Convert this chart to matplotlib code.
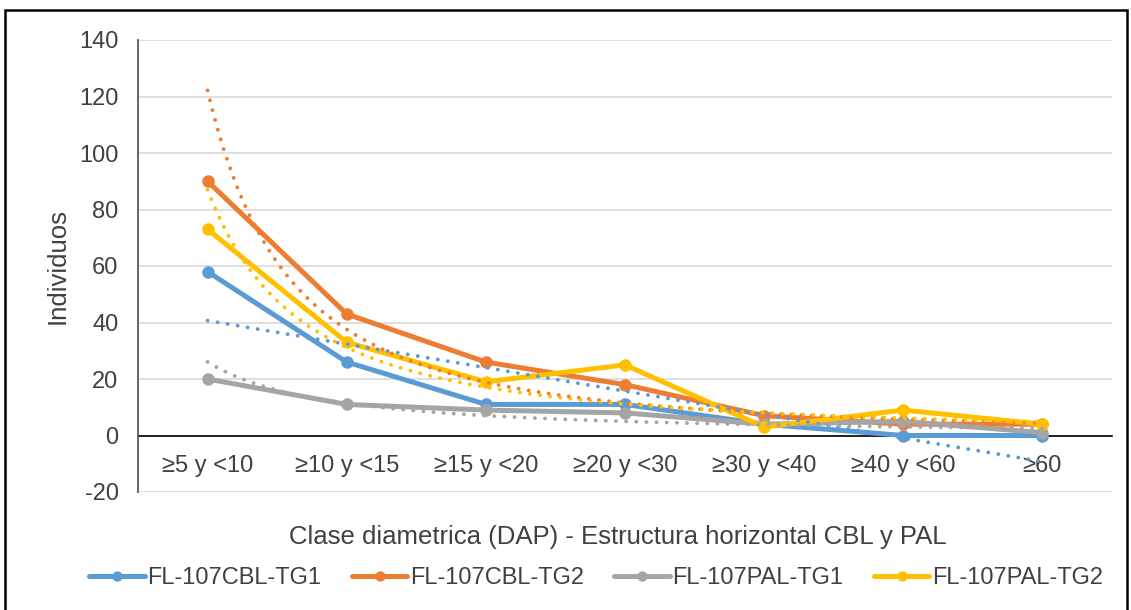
import numpy as np
import matplotlib
matplotlib.use('Agg')
import matplotlib.pyplot as plt
import matplotlib.patches as patches

plt.rcParams['font.family'] = ['Liberation Sans', 'DejaVu Sans']
plt.rcParams['axes.unicode_minus'] = False

# Data
categories = ['≥5 y <10', '≥10 y <15', '≥15 y <20', '≥20 y <30',
              '≥30 y <40', '≥40 y <60', '≥60']
cbl_tg1 = [58, 26, 11, 11, 4, 0, 0]
cbl_tg2 = [90, 43, 26, 18, 7, 4, 4]
pal_tg1 = [20, 11, 9, 8, 4, 5, 1]
pal_tg2 = [73, 33, 19, 25, 3, 9, 4]
names = ['FL-107CBL-TG1', 'FL-107CBL-TG2', 'FL-107PAL-TG1', 'FL-107PAL-TG2']
colors = ['#5B9BD5', '#ED7D31', '#A5A5A5', '#FFC000']
# trendline type per series (Excel style): linear for the first, power for the rest
trend_kind = ['linear', 'power', 'power', 'power']
yticks = [-20, 0, 20, 40, 60, 80, 100, 120, 140]

series = [cbl_tg1, cbl_tg2, pal_tg1, pal_tg2]
txt = '#404040'
fs = 17          # ticks and legend
fs_title = 18.5  # axis titles

fig = plt.figure(figsize=(11.31, 6.10), dpi=100)
fig.patch.set_facecolor('white')
ax = fig.add_axes([138/1131, 1-492/610, 974/1131, 452/610])

x = np.arange(1, len(categories) + 1)
xf = np.linspace(1, len(categories), 200)

for vals, c, name in zip(series, colors, names):
    ax.plot(x, vals, color=c, lw=3.6, marker='o', ms=8, label=name,
            solid_capstyle='round', zorder=3)

# trendlines fitted from the data
for vals, c, kind in zip(series, colors, trend_kind):
    v = np.array(vals, dtype=float)
    if kind == 'linear':
        p = np.polyfit(x, v, 1)
        yf = np.polyval(p, xf)
    else:
        m = v > 0
        p = np.polyfit(np.log(x[m]), np.log(v[m]), 1)
        yf = np.exp(p[1]) * xf ** p[0]
    ax.plot(xf, yf, color=c, lw=2.8, linestyle=(0, (0.01, 2.6)),
            dash_capstyle='round', zorder=4)

ax.set_xlim(0.5, len(categories) + 0.5)
ax.set_ylim(-20, 140)
ax.set_yticks(yticks)
ax.set_xticks(x)
ax.set_xticklabels(categories)
ax.grid(axis='y', color='#d9d9d9', lw=1.2, zorder=0)
ax.set_axisbelow(True)

for s in ['top', 'right']:
    ax.spines[s].set_visible(False)
ax.spines['left'].set_color('#595959')
ax.spines['left'].set_linewidth(1.3)
ax.spines['bottom'].set_position(('data', 0))
ax.spines['bottom'].set_color('black')
ax.spines['bottom'].set_linewidth(1.2)
ax.spines['bottom'].set_zorder(2)
ax.tick_params(axis='both', length=0, labelsize=fs, labelcolor=txt)
ax.tick_params(axis='y', pad=14)
ax.tick_params(axis='x', pad=14)

fig.text(58/1131, 1-266/610, 'Individuos', rotation=90, ha='center',
         va='center', fontsize=fs_title, color=txt)
fig.text(618/1131, 1-537/610,
         'Clase diametrica (DAP) - Estructura horizontal CBL y PAL',
         ha='center', va='center', fontsize=fs_title, color=txt)

fig.legend(loc='center', bbox_to_anchor=(596/1131, 1-578/610), ncol=4,
           frameon=False, fontsize=fs, handlelength=2.35, handletextpad=0.1,
           columnspacing=1.3, labelcolor=txt, markerscale=0.8)

# chart area border
fig.patches.append(patches.Rectangle((5/1131, -0.02), 1122/1131, 1-10/610+0.02,
                                     transform=fig.transFigure, fill=False,
                                     edgecolor='black', lw=1.8))

fig.savefig('out.png', dpi=100, facecolor='white')
